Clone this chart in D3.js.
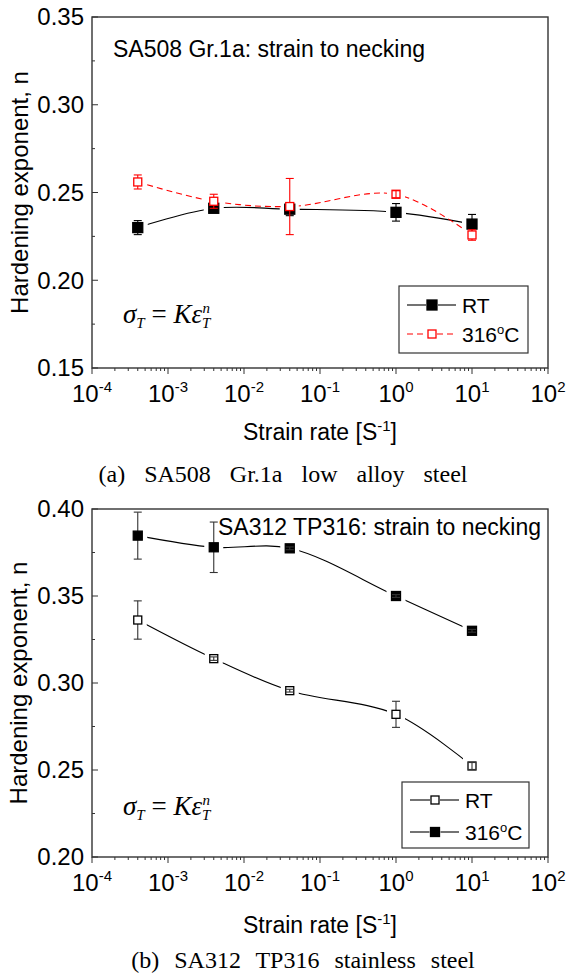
<!DOCTYPE html>
<html>
<head>
<meta charset="utf-8">
<script src="https://cdn.jsdelivr.net/npm/d3@7"></script>
<style>
  body { margin: 0; background: #fff; }
  text { font-family: "Liberation Sans", Arial, sans-serif; fill: #000; }
  .serif { font-family: "Liberation Serif", "Times New Roman", serif; }
</style>
</head>
<body>
<script>
/* DATA */
const strainRates = [4e-4, 4e-3, 4e-2, 1, 10];

// (a) SA508 Gr.1a
const sa508RT = [0.2300, 0.2410, 0.2405, 0.2387, 0.2320];
const sa508RTErr = [0.0040, 0.0020, 0.0037, 0.0050, 0.0055];
const sa508HT = [0.2560, 0.2450, 0.2420, 0.2490, 0.2258];
const sa508HTErr = [0.0040, 0.0040, 0.0160, 0.0020, 0.0030];

// (b) SA312 TP316
const sa312RT = [0.3362, 0.3140, 0.2956, 0.2820, 0.2523];
const sa312RTErr = [0.0110, 0.0010, 0.0008, 0.0075, 0.0020];
const sa312HT = [0.3847, 0.3780, 0.3774, 0.3500, 0.3300];
const sa312HTErr = [0.0135, 0.0145, 0.0008, 0.0008, 0.0008];

const xExponents = [-4, -3, -2, -1, 0, 1, 2];

/* CONSTANTS */
const width = 567, height = 976;

const svg = d3.select("body").append("svg")
  .attr("width", width)
  .attr("height", height);

const defs = svg.append("defs");

const x = d3.scaleLog().domain([1e-4, 1e2]).range([92, 548]);

let maskId = 0;

function drawPanel(p) {
  const y = d3.scaleLinear().domain(p.yDomain).range(p.yRange);
  const g = svg.append("g");
  const [x0, x1] = x.range();
  const [yb, yt] = p.yRange;

  // frame
  g.append("rect")
    .attr("x", x0).attr("y", yt)
    .attr("width", x1 - x0).attr("height", yb - yt)
    .attr("fill", "none").attr("stroke", "#333").attr("stroke-width", 1.4);

  // x ticks (outward)
  const minor = x.ticks().filter(t => Math.abs(Math.log10(t) - Math.round(Math.log10(t))) > 1e-6);
  g.selectAll(".xminor").data(minor).join("line")
    .attr("x1", d => x(d)).attr("x2", d => x(d))
    .attr("y1", yb).attr("y2", yb + 3)
    .attr("stroke", "#333");
  g.selectAll(".xmajor").data(xExponents).join("line")
    .attr("x1", d => x(Math.pow(10, d))).attr("x2", d => x(Math.pow(10, d)))
    .attr("y1", yb).attr("y2", yb + 6)
    .attr("stroke", "#333");
  const xl = g.selectAll(".xlab").data(xExponents).join("text")
    .attr("x", d => x(Math.pow(10, d)))
    .attr("y", yb + 34)
    .attr("text-anchor", "middle")
    .attr("font-size", 24);
  xl.append("tspan").text("10");
  xl.append("tspan").attr("dy", -10).attr("font-size", 15).text(d => d);

  // y ticks (inward)
  const [ymin] = p.yDomain;
  const yMaj = d3.range(0, 5).map(i => +(ymin + i * 0.05).toFixed(2));
  const yMin = d3.range(0, 4).map(i => ymin + 0.025 + i * 0.05);
  g.selectAll(".ymajor").data(yMaj).join("line")
    .attr("x1", x0).attr("x2", x0 + 6)
    .attr("y1", d => y(d)).attr("y2", d => y(d))
    .attr("stroke", "#333");
  g.selectAll(".yminor").data(yMin).join("line")
    .attr("x1", x0).attr("x2", x0 + 3)
    .attr("y1", d => y(d)).attr("y2", d => y(d))
    .attr("stroke", "#333");
  g.selectAll(".ylab").data(yMaj).join("text")
    .attr("x", x0 - 8)
    .attr("y", d => y(d))
    .attr("dy", "0.35em")
    .attr("text-anchor", "end")
    .attr("font-size", 24)
    .text(d => d.toFixed(2));

  // axis titles
  g.append("text")
    .attr("transform", `translate(${p.yTitleX}, ${(yb + yt) / 2}) rotate(-90)`)
    .attr("text-anchor", "middle")
    .attr("font-size", 24)
    .text("Hardening exponent, n");

  const xt = g.append("text")
    .attr("x", (x0 + x1) / 2)
    .attr("y", yb + p.xTitleDy)
    .attr("text-anchor", "middle")
    .attr("font-size", 23);
  xt.append("tspan").text("Strain rate [S");
  xt.append("tspan").attr("dy", -9).attr("font-size", 15).text("-1");
  xt.append("tspan").attr("dy", 9).text("]");

  // caption
  g.append("text")
    .attr("class", "serif")
    .attr("x", p.captionX)
    .attr("y", yb + p.captionDy)
    .attr("text-anchor", "middle")
    .attr("font-size", 24)
    .attr("word-spacing", p.captionWs)
    .text(p.caption);

  // panel title
  g.append("text")
    .attr("x", p.titleX).attr("y", p.titleY)
    .attr("font-size", 23)
    .text(p.title);

  // formula
  const f = g.append("text")
    .attr("class", "serif")
    .attr("x", 123).attr("y", yb + p.formulaDy)
    .attr("font-size", 27);
  f.append("tspan").attr("font-style", "italic").text("σ");
  f.append("tspan").attr("font-style", "italic").attr("font-size", 15).attr("dy", 5).text("T");
  f.append("tspan").attr("dy", -5).text(" = ");
  f.append("tspan").attr("font-style", "italic").text("Kε");
  f.append("tspan").attr("font-style", "italic").attr("font-size", 15).attr("dy", 5).text("T");
  f.append("tspan").attr("font-style", "italic").attr("font-size", 15).attr("dx", -8).attr("dy", -15).text("n");

  // series
  const line = d3.line()
    .x(d => x(d.r))
    .y(d => y(d.v))
    .curve(d3.curveCatmullRom.alpha(0.5));

  p.series.forEach(s => {
    const pts = strainRates.map((r, i) => ({ r, v: s.values[i], e: s.errs[i] }));
    const id = "gap" + (maskId++);
    const m = defs.append("mask").attr("id", id).attr("maskUnits", "userSpaceOnUse")
      .attr("x", 0).attr("y", 0).attr("width", width).attr("height", height);
    m.append("rect").attr("width", width).attr("height", height).attr("fill", "#fff");
    m.selectAll("rect.h").data(pts).join("rect")
      .attr("class", "h")
      .attr("x", d => x(d.r) - s.size / 2 - 5)
      .attr("y", d => y(d.v) - s.size / 2 - 5)
      .attr("width", s.size + 10).attr("height", s.size + 10)
      .attr("fill", "#000");

    g.append("path")
      .datum(pts)
      .attr("d", line)
      .attr("fill", "none")
      .attr("stroke", s.color)
      .attr("stroke-width", 1.1)
      .attr("stroke-dasharray", s.dash)
      .attr("mask", `url(#${id})`);

    const errBar = sel => {
      sel.append("line")
        .attr("x1", d => x(d.r)).attr("x2", d => x(d.r))
        .attr("y1", d => y(d.v + d.e)).attr("y2", d => y(d.v - d.e));
      sel.append("line")
        .attr("x1", d => x(d.r) - 4).attr("x2", d => x(d.r) + 4)
        .attr("y1", d => y(d.v + d.e)).attr("y2", d => y(d.v + d.e));
      sel.append("line")
        .attr("x1", d => x(d.r) - 4).attr("x2", d => x(d.r) + 4)
        .attr("y1", d => y(d.v - d.e)).attr("y2", d => y(d.v - d.e));
    };
    const inside = d => Math.abs(y(d.v + d.e) - y(d.v)) < s.size / 2;

    g.selectAll(null).data(pts.filter(d => !inside(d))).join("g")
      .attr("stroke", s.errColor).attr("stroke-width", 1.1)
      .call(errBar);

    g.selectAll(null).data(pts).join("rect")
      .attr("x", d => x(d.r) - s.size / 2)
      .attr("y", d => y(d.v) - s.size / 2)
      .attr("width", s.size).attr("height", s.size)
      .attr("fill", s.fill)
      .attr("stroke", s.color)
      .attr("stroke-width", 1.3);

    g.selectAll(null).data(pts.filter(inside)).join("g")
      .attr("stroke", s.errColor).attr("stroke-width", 1.1)
      .call(errBar);
  });

  // legend
  const L = p.legend;
  g.append("rect")
    .attr("x", L.x).attr("y", L.y).attr("width", L.w).attr("height", L.h)
    .attr("fill", "#fff").attr("stroke", "#333").attr("stroke-width", 1.2);
  p.series.forEach((s, i) => {
    const cy = L.y + L.first + i * L.step;
    const cx = L.x + 33;
    [[L.x + 8, cx - s.size / 2 - 1], [cx + s.size / 2 + 1, L.x + 57]].forEach(([a, b]) => {
      g.append("line")
        .attr("x1", a).attr("x2", b).attr("y1", cy).attr("y2", cy)
        .attr("stroke", s.color).attr("stroke-width", 1.1)
        .attr("stroke-dasharray", s.dash);
    });
    g.append("rect")
      .attr("x", cx - s.size / 2).attr("y", cy - s.size / 2)
      .attr("width", s.size).attr("height", s.size)
      .attr("fill", s.fill).attr("stroke", s.color).attr("stroke-width", 1.3);
    const t = g.append("text")
      .attr("x", L.x + 63).attr("y", cy).attr("dy", "0.36em")
      .attr("font-size", 21);
    if (s.label === "316C") {
      t.append("tspan").text("316");
      t.append("tspan").attr("dy", -8).attr("font-size", 13).text("o");
      t.append("tspan").attr("dy", 8).text("C");
    } else {
      t.text(s.label);
    }
  });
}

/* PANEL (a) */
drawPanel({
  yDomain: [0.15, 0.35],
  yRange: [368, 17],
  yTitleX: 28,
  xTitleDy: 72,
  caption: "(a) SA508 Gr.1a low alloy steel",
  captionX: 283, captionDy: 114, captionWs: 13,
  title: "SA508 Gr.1a: strain to necking",
  titleX: 113, titleY: 57,
  formulaDy: -45,
  series: [
    { label: "RT", values: sa508RT, errs: sa508RTErr, color: "#000", errColor: "#000",
      fill: "#000", dash: null, size: 10 },
    { label: "316C", values: sa508HT, errs: sa508HTErr, color: "#ff0000", errColor: "#ff0000",
      fill: "#fff", dash: "6,4", size: 8 }
  ],
  legend: { x: 399, y: 286, w: 129, h: 67, first: 19, step: 29 }
});

/* PANEL (b) */
drawPanel({
  yDomain: [0.20, 0.40],
  yRange: [857, 509],
  yTitleX: 27,
  xTitleDy: 76,
  caption: "(b) SA312 TP316 stainless steel",
  captionX: 303, captionDy: 111, captionWs: 9,
  title: "SA312 TP316: strain to necking",
  titleX: 218, titleY: 535,
  formulaDy: -42,
  series: [
    { label: "RT", values: sa312RT, errs: sa312RTErr, color: "#000", errColor: "#333",
      fill: "#fff", dash: null, size: 8 },
    { label: "316C", values: sa312HT, errs: sa312HTErr, color: "#000", errColor: "#333",
      fill: "#000", dash: null, size: 9 }
  ],
  legend: { x: 402, y: 782, w: 127, h: 66, first: 18, step: 32 }
});
</script>
</body>
</html>
